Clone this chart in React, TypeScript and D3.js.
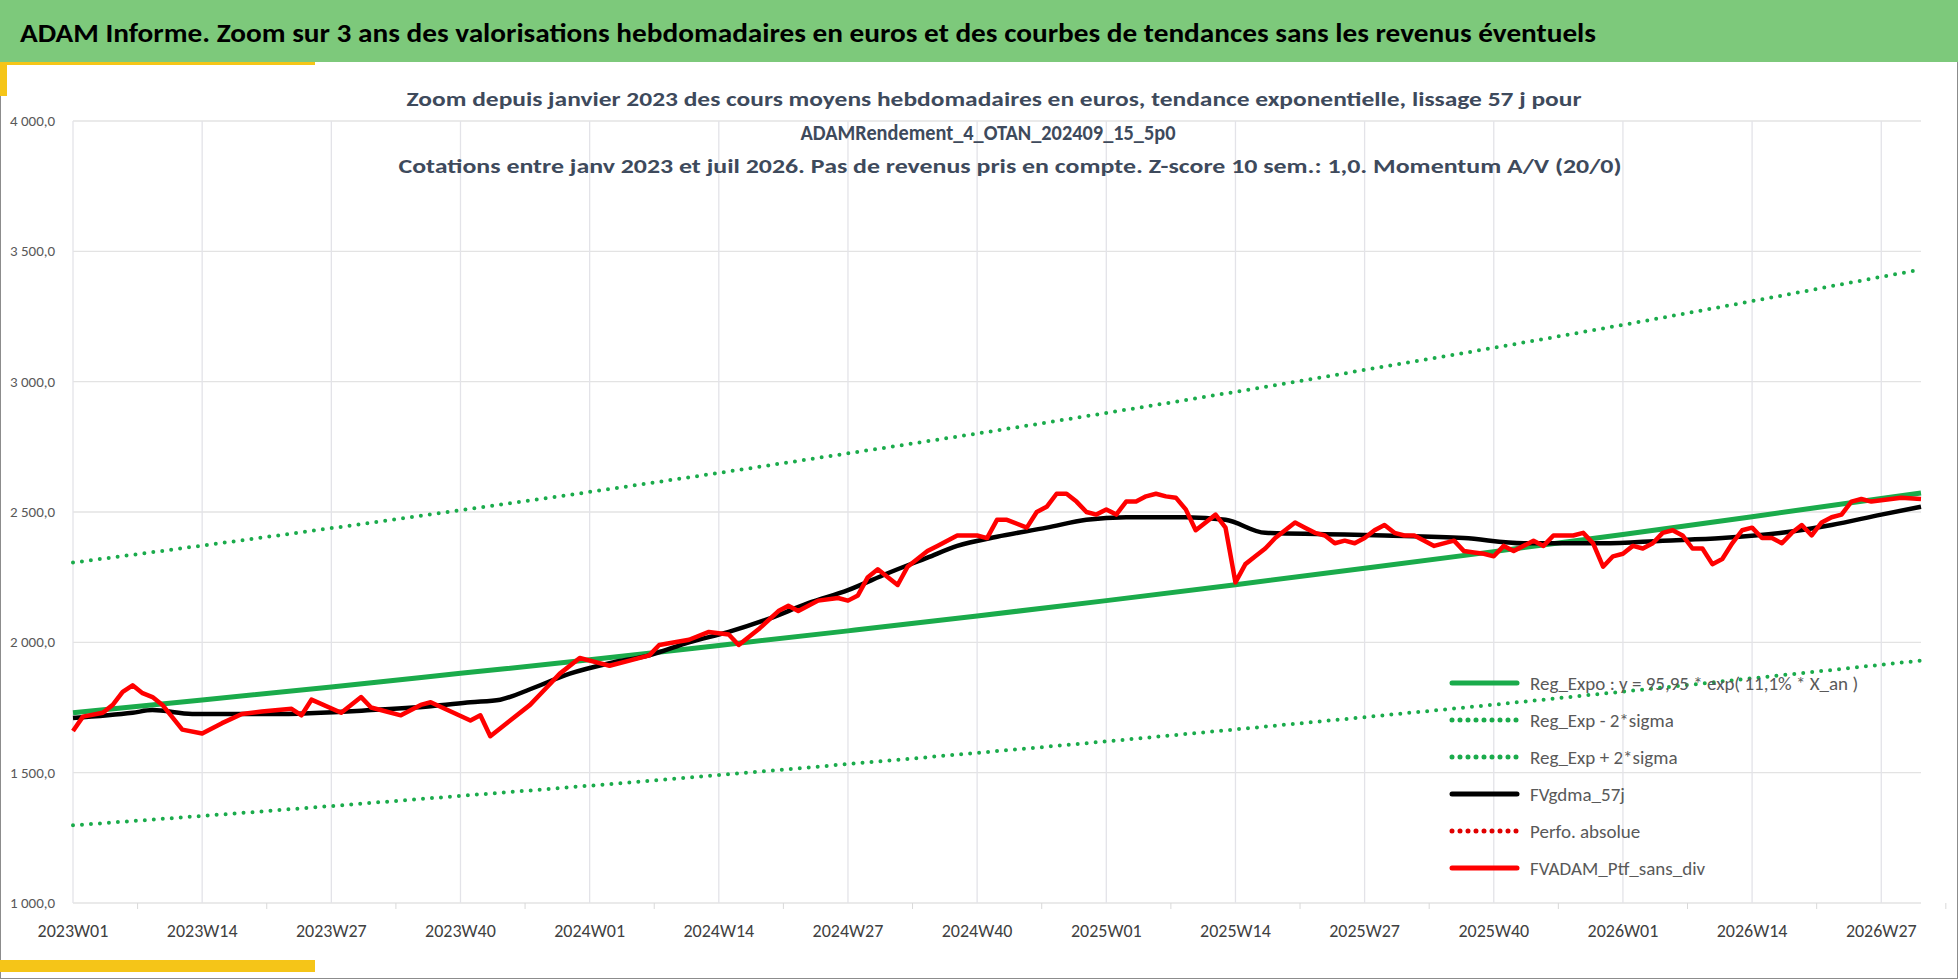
import * as d3 from 'd3';

// week index since 2023W01
const tickWeeks = [0, 13, 26, 39, 52, 65, 78, 91, 104, 117, 130, 143, 156, 169, 182];
const tickLabels = ['2023W01', '2023W14', '2023W27', '2023W40', '2024W01', '2024W14', '2024W27', '2024W40',
  '2025W01', '2025W14', '2025W27', '2025W40', '2026W01', '2026W14', '2026W27'];
const yTicks = [1000, 1500, 2000, 2500, 3000, 3500, 4000];

const trendWeeks = [0, 13, 26, 39, 52, 65, 78, 91, 104, 117, 130, 143, 156, 169, 182, 186];
const trend = [1730, 1779, 1829, 1881, 1933, 1988, 2044, 2101, 2160, 2221, 2284, 2348, 2414, 2482, 2552, 2573];
const upper = [2306, 2371, 2438, 2507, 2577, 2650, 2725, 2801, 2880, 2961, 3045, 3130, 3218, 3309, 3402, 3430];
const lower = [1298, 1334, 1372, 1411, 1450, 1491, 1533, 1576, 1620, 1666, 1713, 1761, 1811, 1862, 1914, 1930];

const smoothWeeks = [0, 6, 8, 12, 20, 30, 36, 40, 43, 46, 50, 54, 58, 62, 66, 70, 74, 78, 82, 86, 89, 93, 98, 102, 106, 112, 116, 120, 126, 132, 140, 146, 154, 160, 166, 172, 177, 182, 186];
const smooth = [1710, 1730, 1740, 1725, 1725, 1740, 1755, 1770, 1780, 1820, 1880, 1920, 1950, 2000, 2040, 2090, 2150, 2200, 2265, 2325, 2370, 2405, 2440, 2470, 2480, 2480, 2470, 2420, 2415, 2410, 2400, 2380, 2380, 2390, 2400, 2420, 2450, 2490, 2520];

const priceWeeks = [0, 1, 3, 4, 5, 6, 7, 8, 9, 11, 13, 15, 17, 19, 22, 23, 24, 27, 29, 30, 33, 35, 36, 40, 41, 42, 44, 46, 47, 49, 51, 53, 54, 56, 58, 59, 62, 64, 66, 67, 69, 71, 72, 73, 75, 77, 78, 79, 80, 81, 83, 84, 86, 87, 88, 89, 91, 92, 93, 94, 96, 97, 98, 99, 100, 101, 102, 103, 104, 105, 106, 107, 108, 109, 110, 111, 112, 113, 114, 115, 116, 117, 118, 119, 120, 121, 123, 124, 125, 126, 127, 128, 129, 130, 131, 132, 133, 134, 135, 137, 139, 140, 141, 142, 143, 144, 145, 147, 148, 149, 151, 152, 153, 154, 155, 156, 157, 158, 159, 160, 161, 162, 163, 164, 165, 166, 167, 168, 169, 170, 171, 172, 173, 174, 175, 176, 177, 178, 179, 180, 181, 182, 183, 184, 186];
const price = [1660, 1715, 1730, 1760, 1810, 1835, 1805, 1790, 1760, 1665, 1650, 1690, 1725, 1735, 1745, 1720, 1780, 1730, 1790, 1750, 1720, 1760, 1770, 1700, 1720, 1640, 1700, 1760, 1800, 1880, 1940, 1920, 1910, 1930, 1950, 1990, 2010, 2040, 2030, 1990, 2050, 2120, 2140, 2120, 2160, 2170, 2160, 2180, 2250, 2280, 2220, 2290, 2350, 2370, 2390, 2410, 2410, 2400, 2470, 2470, 2440, 2500, 2520, 2570, 2570, 2540, 2500, 2490, 2510, 2490, 2540, 2540, 2560, 2570, 2560, 2555, 2510, 2430, 2460, 2490, 2440, 2230, 2300, 2330, 2360, 2400, 2460, 2440, 2420, 2410, 2380, 2390, 2380, 2400, 2430, 2450, 2420, 2410, 2410, 2370, 2390, 2350, 2345, 2340, 2330, 2370, 2350, 2390, 2370, 2410, 2410, 2420, 2380, 2290, 2330, 2340, 2370, 2360, 2380, 2420, 2430, 2410, 2360, 2360, 2300, 2320, 2380, 2430, 2440, 2400, 2400, 2380, 2420, 2450, 2410, 2460, 2480, 2490, 2540, 2550, 2540, 2545, 2550, 2555, 2550];

const legendItems = [
  { label: 'Reg_Expo : y = 95,95 * exp( 11,1% * X_an )', color: '#1aab4b', dotted: false },
  { label: 'Reg_Exp - 2*sigma', color: '#1aab4b', dotted: true },
  { label: 'Reg_Exp + 2*sigma', color: '#1aab4b', dotted: true },
  { label: 'FVgdma_57j', color: '#000000', dotted: false },
  { label: 'Perfo. absolue', color: '#e00000', dotted: true },
  { label: 'FVADAM_Ptf_sans_div', color: '#ff0000', dotted: false },
];

const W = 1958;
const H = 979;
const font = 'Calibri, Carlito, "Open Sans", sans-serif';

export default function App() {
  const x = d3.scaleLinear().domain([0, 186]).range([73, 1921]);
  const y = d3.scaleLinear().domain([1000, 4000]).range([903, 121]);

  const mk = (ws: number[], vs: number[], curve = d3.curveMonotoneX) =>
    d3.line<number>().x((_, i) => x(ws[i])).y((v) => y(v)).curve(curve)(vs) || '';

  const green = '#1aab4b';
  const dots = { strokeDasharray: '0 9', strokeLinecap: 'round' as const };

  return (
    <svg width={W} height={H} style={{ position: 'absolute', left: 0, top: 0, background: '#fff' }} fontFamily={font}>
      <rect x={0.5} y={0.5} width={W - 1} height={H - 1} fill="#fff" stroke="#8c8c8c" />
      <rect x={0} y={0} width={W} height={62} fill="#7dc97b" />
      <rect x={0} y={62} width={315} height={3} fill="#f5c518" />
      <rect x={0} y={62} width={7} height={34} fill="#f5c518" />
      <rect x={0} y={960} width={315} height={12} fill="#f5c518" />
      <text x={20} y={42} fontSize={27} fontWeight="bold" fill="#000" textLength={1576} lengthAdjust="spacingAndGlyphs">
        ADAM Informe. Zoom sur 3 ans des valorisations hebdomadaires en euros et des courbes de tendances sans les revenus éventuels
      </text>

      {/* gridlines */}
      {yTicks.map((t) => (
        <g key={t}>
          <line x1={73} x2={1921} y1={y(t)} y2={y(t)} stroke="#e3e3e3" strokeWidth={1.3} />
          <text x={10} y={y(t) + 5} fontSize={15} fill="#595959">
            {d3.format(',.1f')(t).replace(',', '\u202f').replace('.', ',')}
          </text>
        </g>
      ))}
      {tickWeeks.map((w, i) => (
        <g key={w}>
          <line x1={x(w)} x2={x(w)} y1={121} y2={903} stroke="#e3e3e8" strokeWidth={1.3} />
          <line x1={x(w + 6.5)} x2={x(w + 6.5)} y1={903} y2={909} stroke="#d9d9d9" />
          <text x={x(w)} y={937} fontSize={18} fill="#404040" textAnchor="middle">{tickLabels[i]}</text>
        </g>
      ))}

      {/* subtitle */}
      <g fontSize={21} fontWeight="bold" fill="#3e4a5c" textAnchor="middle">
        <text x={994} y={106} textLength={1175} lengthAdjust="spacingAndGlyphs">Zoom depuis janvier 2023 des cours moyens hebdomadaires  en euros, tendance exponentielle, lissage 57 j pour</text>
        <text x={988} y={140} fontSize={22} textLength={375} lengthAdjust="spacingAndGlyphs">ADAMRendement_4_OTAN_202409_15_5p0</text>
        <text x={1010} y={173} textLength={1223} lengthAdjust="spacingAndGlyphs">Cotations  entre janv 2023 et juil 2026. Pas de revenus pris en compte. Z-score 10 sem.: 1,0. Momentum  A/V (20/0)</text>
      </g>

      <path d={mk(trendWeeks, upper)} fill="none" stroke={green} strokeWidth={4} {...dots} />
      <path d={mk(trendWeeks, lower)} fill="none" stroke={green} strokeWidth={4} {...dots} />
      <path d={mk(trendWeeks, trend)} fill="none" stroke={green} strokeWidth={5} />
      <path d={mk(smoothWeeks, smooth)} fill="none" stroke="#000" strokeWidth={4.5} />
      <path d={mk(priceWeeks, price, d3.curveLinear)} fill="none" stroke="#ff0000" strokeWidth={4.5} strokeLinejoin="round" />

      {/* legend */}
      {legendItems.map((it, i) => {
        const ly = 683 + i * 37;
        return (
          <g key={it.label}>
            <line x1={1452} x2={1517} y1={ly} y2={ly} stroke={it.color} strokeWidth={5}
              strokeDasharray={it.dotted ? '0 8' : undefined} strokeLinecap="round" />
            <text x={1530} y={ly + 7} fontSize={19} fill="#595959">{it.label}</text>
          </g>
        );
      })}
    </svg>
  );
}
